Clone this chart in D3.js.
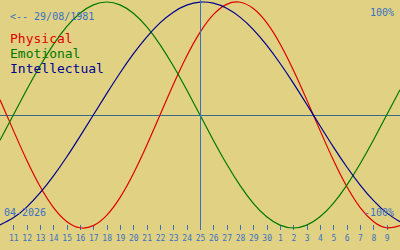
<!DOCTYPE html>
<html>
<head>
<meta charset="utf-8">
<script src="https://cdn.jsdelivr.net/npm/d3@7"></script>
<style>
  html, body { margin: 0; padding: 0; background: #e0d282; }
  svg { display: block; }
</style>
</head>
<body>
<svg id="chart" width="400" height="250"></svg>
<script>
// days shown, 10 April -> 10 May 2026
const dayLabels = [10, 11, 12, 13, 14, 15, 16, 17, 18, 19, 20, 21, 22, 23, 24, 25, 26, 27, 28, 29, 30,
    1, 2, 3, 4, 5, 6, 7, 8, 9, 10];

// percent values per day
const physical = [13.6, -13.6, -39.8, -63.1, -81.7, -94.2, -99.8, -97.9, -88.8, -73.1, -52.0,
    -27.0, 0, 27.0, 52.0, 73.1, 88.8, 97.9, 99.8, 94.2, 81.7,
    63.1, 39.8, 13.6, -13.6, -39.8, -63.1, -81.7, -94.2, -99.8, -97.9];
const emotional = [-22.3, 0, 22.3, 43.4, 62.3, 78.2, 90.1, 97.5, 100, 97.5, 90.1,
    78.2, 62.3, 43.4, 22.3, 0, -22.3, -43.4, -62.3, -78.2, -90.1,
    -97.5, -100, -97.5, -90.1, -78.2, -62.3, -43.4, -22.3, 0, 22.3];
const intellectual = [-97.2, -91.0, -81.5, -69.0, -54.1, -37.2, -18.9, 0, 18.9, 37.2, 54.1,
    69.0, 81.5, 91.0, 97.2, 99.9, 99.0, 94.5, 86.6, 75.6, 61.8,
    45.8, 28.2, 9.5, -9.5, -28.2, -45.8, -61.8, -75.6, -86.6, -94.5];

const seriesNames = ['Physical', 'Emotional', 'Intellectual'];
const seriesColors = ['#e00000', '#007800', '#000090'];
const birthLabel = '<-- 29/08/1981';
const monthLabel = '04-2026';
const selectedDay = 15; // 25 April

const svg = d3.select('#chart');
const width = 400, height = 250;
const axisColor = '#3a70c4';
const font = '"DejaVu Sans Mono", "Liberation Mono", monospace';

const x = d3.scaleLinear().domain([0, dayLabels.length - 1]).range([0, width]);
const y = d3.scaleLinear().domain([-100, 100]).range([228, 2]);

// zero line
svg.append('line')
    .attr('x1', 0).attr('x2', width)
    .attr('y1', y(0)).attr('y2', y(0))
    .attr('stroke', '#3a6a8a')
    .attr('shape-rendering', 'crispEdges');

// day ticks
const axis = svg.append('g')
    .attr('transform', 'translate(0,225)')
    .call(d3.axisBottom(x)
        .tickValues(d3.range(1, dayLabels.length - 1))
        .tickFormat(i => dayLabels[i])
        .tickSize(5)
        .tickPadding(5));
axis.select('.domain').remove();
axis.selectAll('line').attr('stroke', axisColor).attr('shape-rendering', 'crispEdges');
axis.selectAll('text')
    .attr('fill', axisColor)
    .style('font-family', font)
    .style('font-size', '8px');

// curves
const line = d3.line()
    .x((d, i) => x(i))
    .y(d => y(d))
    .curve(d3.curveNatural);

[physical, emotional, intellectual].forEach((s, k) => {
    svg.append('path')
        .datum(s)
        .attr('d', line)
        .attr('fill', 'none')
        .attr('stroke', seriesColors[k])
        .attr('stroke-width', 1.2);
});

// selected day marker
svg.append('line')
    .attr('x1', x(selectedDay)).attr('x2', x(selectedDay))
    .attr('y1', 0).attr('y2', 230)
    .attr('stroke', axisColor)
    .attr('shape-rendering', 'crispEdges');

// labels
svg.append('text')
    .attr('x', 10).attr('y', 20)
    .attr('fill', axisColor)
    .style('font-family', font).style('font-size', '10px')
    .text(birthLabel);

svg.append('text')
    .attr('x', 394).attr('y', 16)
    .attr('text-anchor', 'end')
    .attr('fill', axisColor)
    .style('font-family', font).style('font-size', '10px')
    .text('100%');

svg.append('text')
    .attr('x', 394).attr('y', 216)
    .attr('text-anchor', 'end')
    .attr('fill', axisColor)
    .style('font-family', font).style('font-size', '10px')
    .text('-100%');

svg.append('text')
    .attr('x', 4).attr('y', 216)
    .attr('fill', axisColor)
    .style('font-family', font).style('font-size', '10px')
    .text(monthLabel);

seriesNames.forEach((name, k) => {
    svg.append('text')
        .attr('x', 10).attr('y', 43 + k * 15)
        .attr('fill', seriesColors[k])
        .style('font-family', font).style('font-size', '13px')
        .text(name);
});
</script>
</body>
</html>
